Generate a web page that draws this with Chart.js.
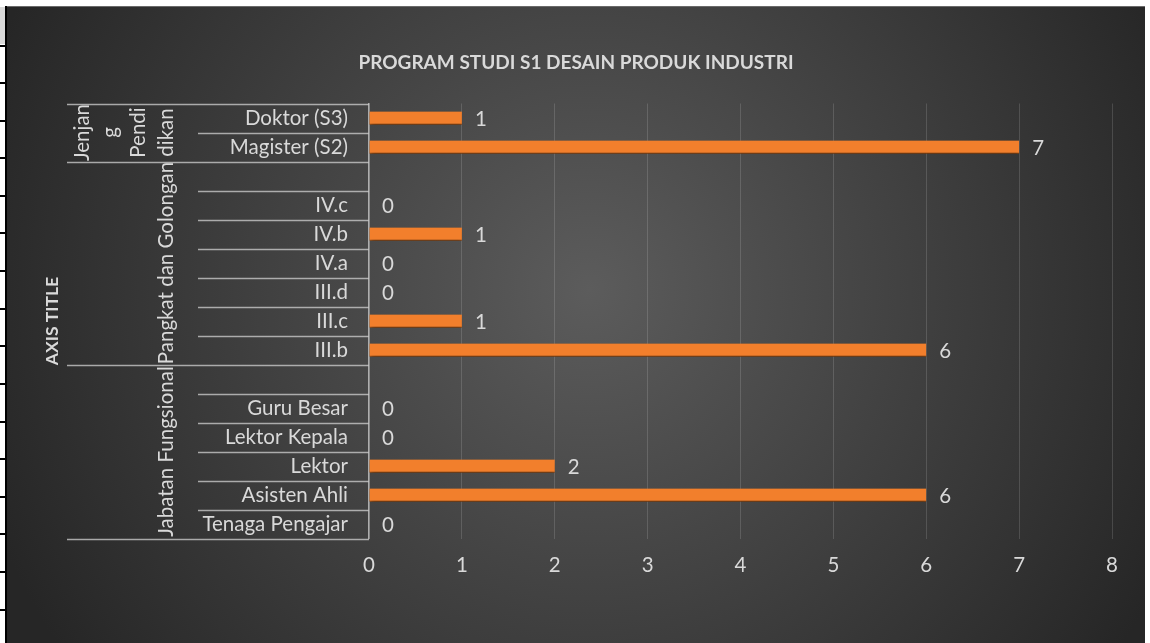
<!DOCTYPE html>
<html>
<head>
<meta charset="utf-8">
<script src="https://cdn.jsdelivr.net/npm/chart.js@4.4.0/dist/chart.umd.min.js"></script>
<style>
  html, body { margin: 0; padding: 0; background: #fff; }
  #wrapper-canvas { width: 1150px; height: 643px; }
</style>
</head>
<body>
<div id="wrapper-canvas"><canvas id="myChart" width="1150" height="643"></canvas></div>
<script>

// DATA
const categories = ['Doktor (S3)', 'Magister (S2)', '', 'IV.c', 'IV.b', 'IV.a', 'III.d', 'III.c', 'III.b', ' ', 'Guru Besar', 'Lektor Kepala', 'Lektor', 'Asisten Ahli', 'Tenaga Pengajar'];
const values = [1, 7, null, 0, 1, 0, 0, 1, 6, null, 0, 0, 2, 6, 0];
const groupLabels = [['Jenjan', 'g', 'Pendi', 'dikan'], ['Pangkat dan Golongan'], ['Jabatan Fungsional']];
const groupSizes = [2, 7, 6];
const xTicks = [0, 1, 2, 3, 4, 5, 6, 7, 8];
const chartTitle = 'PROGRAM STUDI S1 DESAIN PRODUK INDUSTRI';
const axisTitle = 'AXIS TITLE';

const textColor = '#d9d9d9';
const fontFamily = 'Lato, "Open Sans", sans-serif';
const labelSize = 20.5;

// fond + bordure tableur
const framePlugin = {
  id: 'frame',
  beforeDraw(chart) {
    const ctx = chart.ctx;
    ctx.save();
    ctx.fillStyle = '#fff';
    ctx.fillRect(0, 0, chart.width, chart.height);

    // bande gauche (lignes du tableur)
    ctx.fillStyle = '#d9d9d9';
    ctx.fillRect(0, 7, 6, 37);
    ctx.fillStyle = '#000';
    for (let y = 44.5; y < chart.height; y += 37.6) {
      ctx.fillRect(0, Math.round(y), 6, 2);
    }
    ctx.fillRect(5, 6, 2, chart.height);

    // fond dégradé
    const g = ctx.createRadialGradient(590, 290, 0, 590, 290, 640);
    g.addColorStop(0, '#5c5c5c');
    g.addColorStop(1, '#262626');
    ctx.fillStyle = g;
    ctx.fillRect(7, 6, 1138, chart.height - 6);
    ctx.fillStyle = '#6a6a6a';
    ctx.fillRect(7, 6, 1138, 1);
    ctx.restore();
  }
};

// ombre des barres + étiquettes
const shadowPlugin = {
  id: 'shadow',
  beforeDatasetsDraw(chart) {
    const ctx = chart.ctx;
    ctx.save();
    ctx.shadowColor = 'rgba(0,0,0,0.55)';
    ctx.shadowBlur = 5;
    ctx.shadowOffsetY = 3;
    ctx.shadowOffsetX = 1;
  },
  afterDatasetsDraw(chart) {
    chart.ctx.restore();
    const ctx = chart.ctx;
    const meta = chart.getDatasetMeta(0);
    ctx.save();
    ctx.fillStyle = textColor;
    ctx.font = labelSize + 'px ' + fontFamily;
    ctx.textAlign = 'left';
    ctx.textBaseline = 'middle';
    meta.data.forEach((bar, i) => {
      if (values[i] === null) return;
      ctx.fillText(String(values[i]), bar.x + 13, bar.y + 1);
    });
    ctx.restore();
  }
};

// axe multi-niveaux + titres
const multiAxisPlugin = {
  id: 'multiAxis',
  afterDraw(chart) {
    const ctx = chart.ctx;
    const yScale = chart.scales.y;
    const top = yScale.top;
    const bottom = yScale.bottom;
    const h = (bottom - top) / categories.length;
    const axisX = chart.chartArea.left;

    const bounds = [0];
    groupSizes.forEach(s => bounds.push(bounds[bounds.length - 1] + s));

    ctx.save();
    ctx.strokeStyle = 'rgba(200,200,200,0.8)';
    ctx.lineWidth = 1.5;
    for (let k = 0; k <= categories.length; k++) {
      const y = Math.round(top + k * h) + 0.5;
      const x0 = bounds.includes(k) ? 67 : 198;
      ctx.beginPath();
      ctx.moveTo(x0, y);
      ctx.lineTo(axisX, y);
      ctx.stroke();
    }

    // libellés de groupe
    ctx.fillStyle = textColor;
    ctx.font = labelSize + 'px ' + fontFamily;
    ctx.textAlign = 'center';
    ctx.textBaseline = 'middle';
    groupLabels.forEach((lines, gi) => {
      const cy = top + (bounds[gi] + groupSizes[gi] / 2) * h;
      lines.forEach((line, li) => {
        const cx = 166 - (lines.length - 1 - li) * 28;
        ctx.save();
        ctx.translate(cx, cy);
        ctx.rotate(-Math.PI / 2);
        ctx.fillText(line, 0, 0);
        ctx.restore();
      });
    });

    // titre
    ctx.font = 'bold 19px ' + fontFamily;
    ctx.fillText(chartTitle, 576, 63);

    // titre de l'axe
    ctx.save();
    ctx.translate(52, 321);
    ctx.rotate(-Math.PI / 2);
    ctx.font = 'bold 17.5px ' + fontFamily;
    ctx.fillText(axisTitle, 0, 0);
    ctx.restore();
    ctx.restore();
  }
};

const ctxOne = document.getElementById('myChart').getContext('2d');

new Chart(ctxOne, {
  type: 'bar',
  data: {
    labels: categories,
    datasets: [{
      data: values,
      backgroundColor: '#f27f2c',
      borderColor: '#e56d12',
      borderWidth: { top: 0, bottom: 1, left: 0, right: 0 },
      barThickness: 13,
      borderSkipped: false
    }]
  },
  options: {
    indexAxis: 'y',
    responsive: false,
    animation: false,
    layout: { padding: { left: 0, right: 38, top: 103.5, bottom: 64.5 } },
    plugins: {
      legend: { display: false },
      tooltip: { enabled: false }
    },
    scales: {
      x: {
        min: 0,
        max: 8,
        afterBuildTicks(scale) {
          scale.ticks = xTicks.map(v => ({ value: v }));
        },
        afterFit(scale) { scale.height = 40; },
        grid: { color: 'rgba(255,255,255,0.14)', lineWidth: 1, drawTicks: false },
        border: { display: false },
        ticks: { color: textColor, font: { family: fontFamily, size: labelSize }, padding: 15 }
      },
      y: {
        afterFit(scale) { scale.width = 369; },
        grid: { display: false, drawTicks: false },
        border: { display: true, color: 'rgba(200,200,200,0.8)', width: 1.5 },
        ticks: { color: textColor, font: { family: fontFamily, size: labelSize }, padding: 21, autoSkip: false }
      }
    }
  },
  plugins: [framePlugin, shadowPlugin, multiAxisPlugin]
});

</script>
</body>
</html>
